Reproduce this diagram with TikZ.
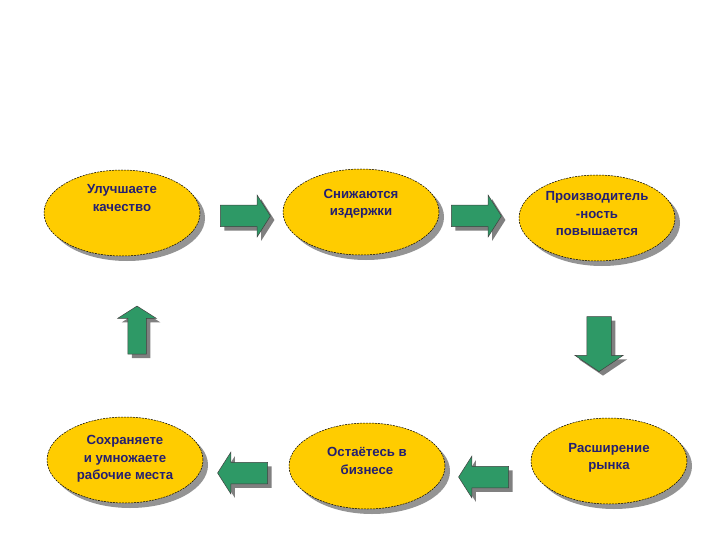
\documentclass[tikz,border=0pt]{standalone}
\usepackage{fontspec}
\setmainfont{Liberation Sans}
\usetikzlibrary{shapes.geometric, shapes.arrows, shadows}
\usepackage{xcolor}
\definecolor{bubblegold}{HTML}{FFCC00}
\definecolor{arrowgreen}{HTML}{2E9966}
\definecolor{inkblue}{HTML}{241F70}

\begin{document}
\begin{tikzpicture}[x=1pt, y=-1pt,
    bubble/.style={ellipse, draw=black, line width=0.5pt, dash pattern=on 2pt off 1pt,
        fill=bubblegold, minimum width=156pt, minimum height=86pt, inner sep=0pt,
        drop shadow={shadow xshift=5pt, shadow yshift=-5pt, fill=black!42, opacity=1}},
    txt/.style={font=\fontsize{13.2}{17.5}\selectfont\bfseries, text=inkblue, align=center, inner sep=0pt},
    blockarrow/.style={single arrow, draw=black!75, line width=0.5pt, fill=arrowgreen,
        minimum height=50pt, inner xsep=0pt, inner ysep=10.5pt,
        single arrow head extend=10pt, single arrow tip angle=115,
        drop shadow={shadow xshift=4pt, shadow yshift=-4pt, fill=black!50, opacity=1}},
    uparrow/.style={blockarrow, shape border rotate=90, inner xsep=9pt, inner ysep=0pt,
        minimum height=48pt},
    downarrow/.style={blockarrow, shape border rotate=270, inner xsep=12pt, inner ysep=0pt,
        minimum height=55pt, single arrow head extend=12pt, single arrow tip angle=112},
]
\fill[white] (0,0) rectangle (720,540);

% top row
\node[bubble, label={[txt, yshift=15pt]center:{Улучшаете\\качество}}] (better) at (122,213) {};
\node[bubble, label={[txt, yshift=8pt]center:{Снижаются\\издержки}}] (costs) at (361,212) {};
\node[bubble, label={[txt, yshift=4pt]center:{Производитель\\-ность\\повышается}}] (product) at (597,218) {};

% bottom row
\node[bubble, label={[txt, yshift=1pt]center:{Сохраняете\\и умножаете\\рабочие места}}] (jobs) at (125,460) {};
\node[bubble, label={[txt, yshift=5pt]center:{Остаётесь в\\бизнесе}}] (stay) at (367,466) {};
\node[bubble, label={[txt, yshift=3pt]center:{Расширение\\рынка}}] (market) at (609,461) {};

% arrows between the steps
\node[blockarrow] (ar1) at (242,216) {};
\node[blockarrow] (ar2) at (473,216) {};
\node[downarrow] (ar3) at (599,340) {};
\node[blockarrow, shape border rotate=180] (ar4) at (487,477) {};
\node[blockarrow, shape border rotate=180] (ar5) at (246,473) {};
\node[uparrow] (ar6) at (137,333) {};

\end{tikzpicture}
\end{document}
